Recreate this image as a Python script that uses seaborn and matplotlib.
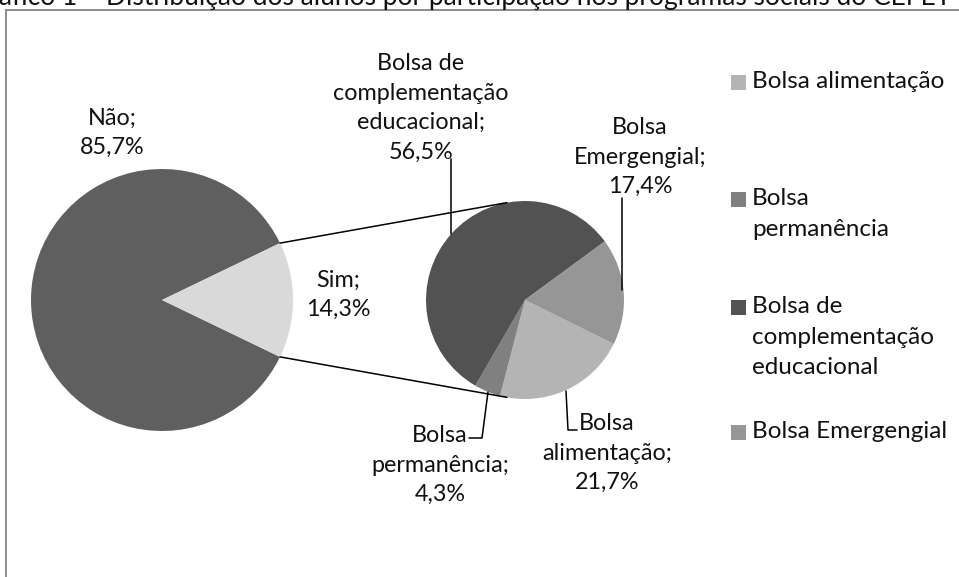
import numpy as np
import seaborn as sns
import matplotlib
matplotlib.use("Agg")
import matplotlib.pyplot as plt
from matplotlib.patches import Rectangle

# dados
principal_nomes = ["Não", "Sim"]
principal_pct = [85.7, 14.3]
bolsa_nomes = ["Bolsa alimentação", "Bolsa permanência",
               "Bolsa de complementação educacional", "Bolsa Emergengial"]
bolsa_pct = [21.7, 4.3, 56.5, 17.4]
bolsa_rotulos = ["Bolsa\nalimentação;", "Bolsa\npermanência;",
                 "Bolsa de\ncomplementação\neducacional;", "Bolsa\nEmergengial;"]
bolsa_legenda = ["Bolsa alimentação", "Bolsa\npermanência",
                 "Bolsa de\ncomplementação\neducacional", "Bolsa Emergengial"]
titulo = "Gráfico 1 – Distribuição dos alunos por participação nos programas sociais do CEFET-MG"

cores_principal = ["#5f5f5f", "#d9d9d9"]
cores_bolsa = ["#b4b4b4", "#808080", "#525252", "#969696"]

sns.set_theme(style="white")
plt.rcParams["font.family"] = ["Lato", "DejaVu Sans"]

W, H = 959, 577
fig = plt.figure(figsize=(W / 100, H / 100), dpi=100)
ax = fig.add_axes([0, 0, 1, 1])


def Y(y):
    return H - y


def pct_txt(v):
    return f"{v:.1f}%".replace(".", ",")


FS = 16.8
LS = 1.5
COR_TXT = "#111111"

# pizza principal
c1, r1 = (162, Y(300)), 131
meio_sim = principal_pct[1] / 100 * 360 / 2
ax.pie(principal_pct, colors=cores_principal, startangle=meio_sim,
       center=c1, radius=r1, wedgeprops=dict(linewidth=0))

# pizza das bolsas
c2, r2 = (525, Y(300)), 99
ax.pie(bolsa_pct, colors=cores_bolsa, startangle=-26.4, counterclock=False,
       center=c2, radius=r2, wedgeprops=dict(linewidth=0))

# linhas de ligação
for sgn in (1, -1):
    a1 = np.deg2rad(sgn * meio_sim)
    a2 = np.deg2rad(sgn * 100.5)
    p1 = (c1[0] + r1 * np.cos(a1), c1[1] + r1 * np.sin(a1))
    p2 = (c2[0] + r2 * np.cos(a2), c2[1] + r2 * np.sin(a2))
    ax.plot([p1[0], p2[0]], [p1[1], p2[1]], color="black", lw=1.1)

# rótulos da pizza principal
pos_principal = [(112, 133), (338, 295)]
for nome, v, (x, y) in zip(principal_nomes, principal_pct, pos_principal):
    ax.text(x, Y(y), f"{nome};\n{pct_txt(v)}", ha="center", va="center",
            fontsize=FS, linespacing=LS, color=COR_TXT)

# rótulos das bolsas
pos_bolsa = [(607, 453), (440, 465), (421, 108), (640, 157)]
for rot, v, (x, y) in zip(bolsa_rotulos, bolsa_pct, pos_bolsa):
    ax.text(x, Y(y), f"{rot}\n{pct_txt(v)}", ha="center", va="center",
            fontsize=FS, linespacing=LS, color=COR_TXT)

# linhas guia
guias = [
    [(566, 391), (568, 430), (577, 430)],
    [(488, 392), (482, 438), (469, 438)],
    [(451, 159), (451, 234)],
    [(622, 198), (622, 290)],
]
for g in guias:
    xs, ys = zip(*g)
    ax.plot(xs, [Y(v) for v in ys], color="black", lw=1.1)

# legenda
leg_y = [82, 199, 307, 432]
for txt, cor, y in zip(bolsa_legenda, cores_bolsa, leg_y):
    ax.add_patch(Rectangle((731, Y(y) - 7.5), 15, 15, color=cor, lw=0))
    ax.text(752, Y(y) + 11, txt, ha="left", va="top", fontsize=17.5,
            linespacing=1.57, color=COR_TXT)

# moldura e título cortado
ax.add_patch(Rectangle((6, Y(H + 20)), W + 20, H + 10, fill=False,
                       edgecolor="#8c8c8c", lw=1.4))
ax.text(-30, Y(5), titulo, ha="left", va="baseline", fontsize=19,
        color=COR_TXT)

ax.set_xlim(0, W)
ax.set_ylim(0, H)
ax.set_aspect("equal")
ax.axis("off")
fig.savefig("out.png", dpi=100)
